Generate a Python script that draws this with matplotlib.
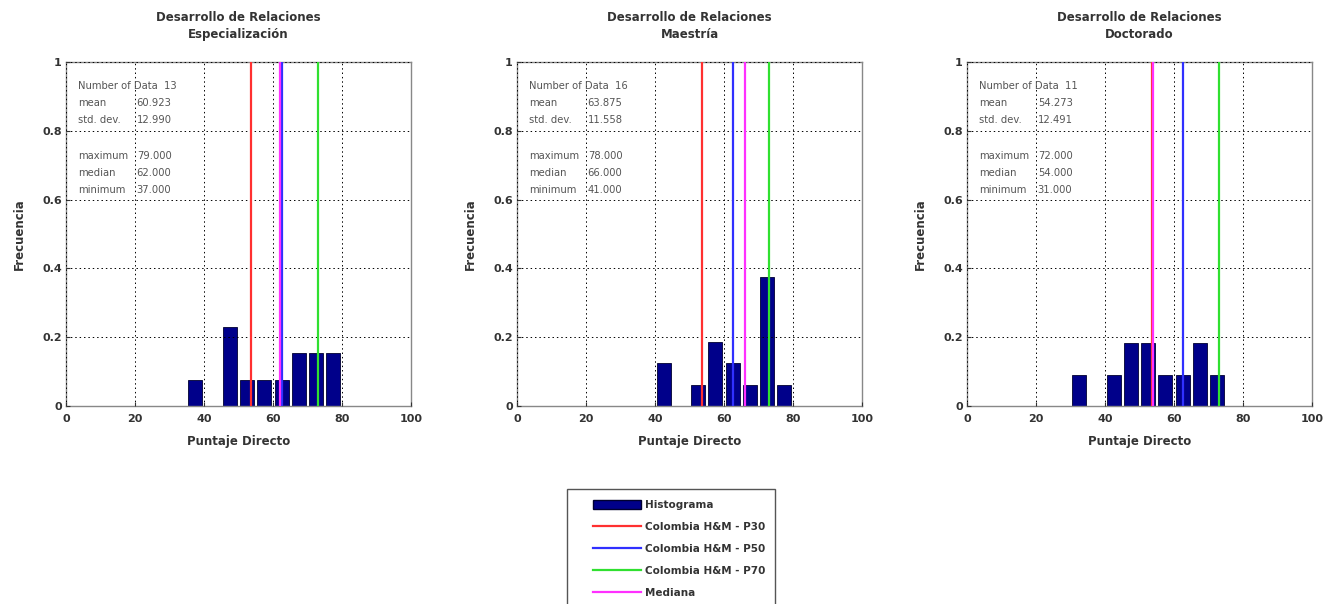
import matplotlib
matplotlib.use('Agg')
import matplotlib.pyplot as plt
from matplotlib.patches import Patch, Rectangle
from matplotlib.lines import Line2D

# Histogram data (bin centers, counts)
titles = ['Especialización', 'Maestría', 'Doctorado']
bin_centers = [
    [37.5, 47.5, 52.5, 57.5, 62.5, 67.5, 72.5, 77.5],
    [42.5, 52.5, 57.5, 62.5, 67.5, 72.5, 77.5],
    [32.5, 42.5, 47.5, 52.5, 57.5, 62.5, 67.5, 72.5],
]
counts = [
    [1, 3, 1, 1, 1, 2, 2, 2],
    [2, 1, 3, 2, 1, 6, 1],
    [1, 1, 2, 2, 1, 1, 2, 1],
]
n_data = [13, 16, 11]
means = [60.923, 63.875, 54.273]
std_devs = [12.990, 11.558, 12.491]
maxima = [79.0, 78.0, 72.0]
medians = [62.0, 66.0, 54.0]
minima = [37.0, 41.0, 31.0]

# Colombia H&M percentiles
p30 = 53.5
p50 = 62.5
p70 = 73.0

bar_color = '#00008a'
lefts = [66, 517, 967]

fig = plt.figure(figsize=(13.4, 6.04), dpi=100)

for k in range(3):
    ax = fig.add_axes([lefts[k] / 1340, 1 - 406 / 604, 345 / 1340, 344 / 604])
    freq = [c / n_data[k] for c in counts[k]]
    ax.bar(bin_centers[k], freq, width=4, color=bar_color, edgecolor='#000030', linewidth=0.6, zorder=2)
    ax.axvline(p30, color='#ff3030', lw=1.6, zorder=4)
    ax.axvline(p50, color='#3030ff', lw=1.6, zorder=4)
    ax.axvline(p70, color='#30e030', lw=1.6, zorder=4)
    ax.axvline(medians[k], color='#ff30ff', lw=1.6, zorder=4)

    ax.set_xlim(0, 100)
    ax.set_ylim(0, 1)
    ax.set_xticks([0, 20, 40, 60, 80, 100])
    ax.set_yticks([0, 0.2, 0.4, 0.6, 0.8, 1])
    ax.set_yticklabels(['0', '0.2', '0.4', '0.6', '0.8', '1'])
    ax.set_axisbelow(False)
    ax.grid(True, color='black', linestyle=(0, (1.5, 3)), linewidth=0.7, zorder=3)
    ax.tick_params(direction='in', length=3, labelsize=8, colors='#333333', pad=3)
    ax.tick_params(axis='x', pad=6)
    for lbl in ax.get_xticklabels() + ax.get_yticklabels():
        lbl.set_fontweight('bold')
    for s in ax.spines.values():
        s.set_color('#888888')
        s.set_linewidth(1.0)

    ax.set_title('Desarrollo de Relaciones\n' + titles[k], fontsize=8.5, fontweight='bold',
                 color='#333333', pad=17, linespacing=1.4)
    ax.set_xlabel('Puntaje Directo', fontsize=8.5, fontweight='bold', color='#333333', labelpad=8)
    ax.set_ylabel('Frecuencia', fontsize=8.5, fontweight='bold', color='#333333', labelpad=12)

    # statistics block
    fs = 7.2
    tc = '#555555'
    ax.text(3.5, 0.930, 'Number of Data  %d' % n_data[k], fontsize=fs, color=tc, va='center')
    rows = [(0.880, 'mean', means[k]), (0.831, 'std. dev.', std_devs[k]),
            (0.727, 'maximum', maxima[k]), (0.676, 'median', medians[k]),
            (0.628, 'minimum', minima[k])]
    for y, name, val in rows:
        ax.text(3.5, y, name, fontsize=fs, color=tc, va='center')
        ax.text(20.5, y, '%.3f' % val, fontsize=fs, color=tc, va='center')

# legend frame (runs off the bottom of the figure as in the original)
fig.patches.append(Rectangle((567 / 1340, -0.05), 208 / 1340, 0.05 + (604 - 489) / 604,
                             transform=fig.transFigure, facecolor='white',
                             edgecolor='#555555', linewidth=1.0))

handles = [
    Patch(facecolor=bar_color, edgecolor='#000030'),
    Line2D([], [], color='#ff3030', lw=1.6),
    Line2D([], [], color='#3030ff', lw=1.6),
    Line2D([], [], color='#30e030', lw=1.6),
    Line2D([], [], color='#ff30ff', lw=1.6),
]
labels = ['Histograma', 'Colombia H&M - P30', 'Colombia H&M - P50', 'Colombia H&M - P70', 'Mediana']
leg = fig.legend(handles, labels, loc='upper left', bbox_to_anchor=(593 / 1340, 1 - 500 / 604),
                 fontsize=7.5, frameon=False, handlelength=4.6, handleheight=1.0,
                 labelspacing=1.12, borderpad=0, handletextpad=0.4, borderaxespad=0)
for t in leg.get_texts():
    t.set_fontweight('bold')
    t.set_color('#333333')

fig.savefig('out.png', dpi=100)
